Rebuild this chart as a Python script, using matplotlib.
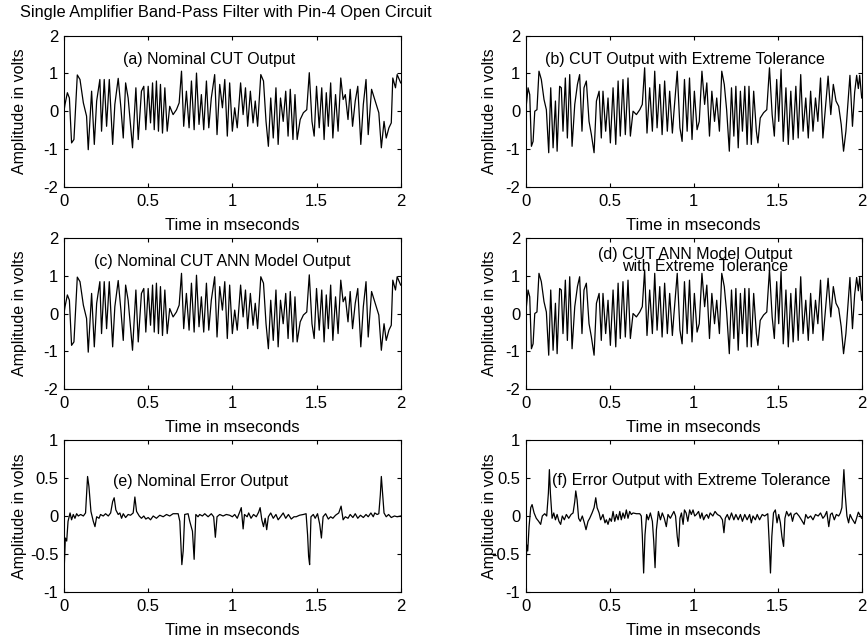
import matplotlib
matplotlib.use("Agg")
import matplotlib.pyplot as plt
from matplotlib.ticker import FuncFormatter

plt.rcParams["font.family"] = ["Liberation Sans", "DejaVu Sans"]
plt.rcParams["axes.unicode_minus"] = False

# ---- nominal CUT output (time in ms, amplitude in V) ----
t_nom = [0.000, 0.006, 0.020, 0.032, 0.045, 0.059, 0.079, 0.095, 0.115, 0.134, 0.144, 0.164,
         0.180, 0.194, 0.213, 0.223, 0.239, 0.253, 0.269, 0.289, 0.302, 0.322, 0.338, 0.352,
         0.366, 0.381, 0.407, 0.427, 0.441, 0.460, 0.474, 0.486, 0.500, 0.514, 0.526, 0.536,
         0.549, 0.561, 0.573, 0.585, 0.599, 0.613, 0.628, 0.648, 0.668, 0.684, 0.698, 0.711,
         0.727, 0.743, 0.757, 0.773, 0.787, 0.802, 0.816, 0.830, 0.846, 0.860, 0.875, 0.895,
         0.909, 0.925, 0.941, 0.955, 0.970, 0.984, 1.000, 1.014, 1.029, 1.049, 1.064, 1.078,
         1.091, 1.107, 1.123, 1.136, 1.150, 1.169, 1.185, 1.200, 1.214, 1.228, 1.243, 1.259,
         1.272, 1.286, 1.302, 1.317, 1.331, 1.344, 1.360, 1.372, 1.385, 1.403, 1.422, 1.442,
         1.457, 1.473, 1.486, 1.500, 1.516, 1.531, 1.545, 1.558, 1.570, 1.584, 1.597, 1.613,
         1.628, 1.644, 1.658, 1.671, 1.687, 1.700, 1.714, 1.730, 1.745, 1.763, 1.778, 1.794,
         1.807, 1.827, 1.846, 1.870, 1.885, 1.901, 1.914, 1.930, 1.944, 1.953, 1.969, 1.979,
         2.000]
v_nom = [0.00, 0.18, 0.49, 0.35, -0.84, -0.75, 0.96, 0.84, 0.22, -0.13, -1.02, 0.53,
         -0.88, 0.27, 0.84, -0.53, 0.84, -0.40, 0.84, -0.88, 0.18, 0.87, 0.09, -0.71,
         0.75, 0.35, -0.97, 0.62, -0.75, 0.53, 0.66, -0.49, 0.66, -0.31, 0.75, -0.49,
         0.80, -0.53, 0.71, -0.58, 0.62, -0.53, 0.13, -0.09, 0.04, 0.22, 1.06, -0.40,
         0.53, -0.44, 0.80, -0.49, 1.01, -0.35, 0.44, -0.49, 0.80, -0.44, 0.35, 0.97,
         -0.62, 0.71, 0.09, 0.84, -0.66, 0.75, -0.53, 0.09, -0.44, 0.75, -0.09, 0.62,
         -0.40, 0.53, -0.31, 0.27, -0.40, 0.97, 0.80, -0.27, -0.93, 0.35, -0.71, 0.62,
         -0.88, 0.35, -0.27, 0.53, -0.66, 0.58, -0.75, 0.44, -0.75, -0.22, -0.04, 0.04,
         1.02, -0.27, -0.66, 0.66, -0.44, 0.62, -0.75, 0.49, -0.40, 0.75, -0.71, 0.44,
         -0.53, 0.88, 0.31, 0.44, -0.22, 0.58, -0.40, 0.27, 0.66, -0.88, 0.18, 0.84,
         -0.62, 0.58, 0.31, -0.04, -0.97, -0.27, -0.71, -0.44, -0.31, 0.88, 0.62, 0.97,
         0.75]

# ---- CUT output with extreme tolerance ----
t_tol = [0.000, 0.004, 0.014, 0.024, 0.034, 0.044, 0.054, 0.067, 0.079, 0.093, 0.109, 0.123,
         0.137, 0.149, 0.163, 0.177, 0.187, 0.202, 0.212, 0.222, 0.236, 0.248, 0.262, 0.276,
         0.292, 0.308, 0.321, 0.335, 0.347, 0.361, 0.377, 0.391, 0.407, 0.421, 0.437, 0.450,
         0.460, 0.476, 0.490, 0.504, 0.520, 0.536, 0.550, 0.563, 0.579, 0.593, 0.609, 0.623,
         0.639, 0.659, 0.679, 0.694, 0.708, 0.722, 0.738, 0.754, 0.768, 0.782, 0.798, 0.812,
         0.827, 0.843, 0.857, 0.873, 0.882, 0.902, 0.918, 0.931, 0.945, 0.961, 0.975, 0.990,
         1.004, 1.020, 1.033, 1.049, 1.065, 1.078, 1.094, 1.108, 1.124, 1.137, 1.153, 1.167,
         1.182, 1.196, 1.212, 1.225, 1.239, 1.251, 1.265, 1.278, 1.290, 1.304, 1.318, 1.329,
         1.343, 1.357, 1.373, 1.382, 1.396, 1.416, 1.435, 1.451, 1.467, 1.480, 1.494, 1.506,
         1.520, 1.533, 1.549, 1.563, 1.578, 1.592, 1.608, 1.622, 1.637, 1.651, 1.667, 1.682,
         1.696, 1.710, 1.725, 1.739, 1.755, 1.769, 1.784, 1.800, 1.816, 1.831, 1.847, 1.863,
         1.878, 1.892, 1.906, 1.918, 1.930, 1.945, 1.958, 1.970, 1.980, 1.988, 2.000]
v_tol = [0.00, 0.18, 0.62, 0.44, -0.93, -0.80, 0.00, 0.04, 1.06, 0.84, 0.31, 0.04,
         -1.10, 0.62, -0.97, 0.27, -1.06, 0.66, 0.62, -0.53, 0.88, -0.71, 0.97, -0.93,
         0.18, 0.71, 0.97, -0.53, 0.62, 0.80, -0.27, -0.62, -1.10, 0.27, 0.53, -0.71,
         0.53, -0.53, 0.35, -0.84, 0.62, -0.88, 0.80, -0.66, 0.84, -0.62, 0.88, -0.66,
         0.00, -0.09, 0.04, 0.18, 1.15, -0.58, 0.62, -0.53, 1.06, -0.44, 0.71, -0.62,
         0.80, -0.53, 0.53, -0.58, -0.04, 1.06, -0.44, -0.80, 0.84, -0.53, 0.88, -0.75,
         0.53, -0.49, -0.27, 1.06, 0.18, 0.75, -0.66, 0.53, -0.27, 0.35, -0.53, 1.06,
         0.71, 0.04, -1.06, 0.62, -0.66, 0.66, -0.97, 0.53, -0.53, 0.66, -0.88, 0.66,
         -0.88, 0.53, -0.53, -0.84, -0.18, -0.04, 0.04, 1.15, -0.09, -0.66, 0.84, -0.27,
         1.11, -0.80, 0.62, -0.88, 0.53, -0.75, 0.66, -0.71, 0.97, -0.53, 0.35, -0.71,
         0.53, -0.53, 0.35, -0.27, 0.88, -0.71, 0.09, 0.93, -0.09, 0.71, 0.27, 0.13,
         -0.35, -1.06, -0.53, 0.20, 0.95, -0.40, 0.50, 0.95, 0.60, 0.95, 0.35]

# ---- nominal error output ----
t_err_nom = [0.000, 0.002, 0.008, 0.016, 0.024, 0.036, 0.045, 0.055, 0.065, 0.075, 0.085, 0.099,
             0.115, 0.128, 0.140, 0.148, 0.160, 0.174, 0.184, 0.194, 0.208, 0.217, 0.233, 0.247,
             0.263, 0.277, 0.289, 0.298, 0.308, 0.322, 0.332, 0.342, 0.352, 0.366, 0.381, 0.395,
             0.411, 0.421, 0.431, 0.447, 0.460, 0.474, 0.486, 0.500, 0.514, 0.530, 0.549, 0.569,
             0.589, 0.609, 0.628, 0.648, 0.678, 0.688, 0.700, 0.708, 0.717, 0.737, 0.747, 0.763,
             0.773, 0.783, 0.796, 0.806, 0.822, 0.836, 0.856, 0.875, 0.889, 0.899, 0.909, 0.925,
             0.945, 0.964, 0.984, 1.000, 1.014, 1.029, 1.045, 1.053, 1.064, 1.072, 1.088, 1.097,
             1.111, 1.126, 1.142, 1.156, 1.165, 1.175, 1.185, 1.195, 1.204, 1.214, 1.228, 1.243,
             1.259, 1.272, 1.286, 1.302, 1.317, 1.333, 1.350, 1.366, 1.379, 1.399, 1.422, 1.438,
             1.447, 1.453, 1.459, 1.467, 1.481, 1.492, 1.506, 1.519, 1.529, 1.539, 1.554, 1.570,
             1.584, 1.597, 1.613, 1.632, 1.646, 1.658, 1.671, 1.687, 1.700, 1.716, 1.730, 1.745,
             1.761, 1.778, 1.794, 1.807, 1.823, 1.837, 1.846, 1.860, 1.870, 1.879, 1.885, 1.893,
             1.901, 1.914, 1.928, 1.944, 1.963, 1.979, 2.000]
v_err_nom = [-0.55, -0.64, -0.29, -0.33, -0.07, 0.04, -0.05, 0.02, -0.03, 0.03, 0.00, 0.02,
             0.00, 0.04, 0.52, 0.39, 0.06, -0.07, -0.14, -0.01, -0.03, 0.02, 0.00, 0.03,
             0.00, 0.04, 0.19, 0.24, 0.08, 0.02, 0.04, -0.03, 0.03, -0.02, 0.02, 0.01,
             0.04, 0.25, 0.06, 0.00, -0.03, 0.00, -0.04, -0.02, -0.05, 0.00, -0.03, 0.01,
             -0.01, 0.02, 0.00, 0.03, 0.03, -0.07, -0.64, -0.46, 0.02, 0.03, -0.07, -0.20,
             -0.57, 0.02, -0.01, 0.02, 0.00, 0.03, -0.01, 0.03, -0.01, -0.28, -0.01, 0.02,
             0.00, 0.02, 0.01, -0.01, 0.02, -0.03, 0.06, 0.11, -0.17, 0.02, -0.01, 0.04,
             -0.03, 0.02, -0.01, 0.05, 0.11, -0.05, -0.14, -0.03, -0.18, -0.01, 0.04, -0.03,
             0.02, -0.05, -0.01, 0.04, -0.03, 0.02, -0.04, -0.01, -0.01, 0.01, 0.02, 0.03,
             -0.25, -0.53, -0.64, -0.01, 0.02, -0.03, 0.03, -0.11, -0.29, -0.01, 0.03, -0.04,
             -0.01, -0.03, 0.01, 0.04, 0.13, -0.05, -0.01, -0.03, 0.02, -0.02, 0.03, -0.03,
             0.01, -0.02, 0.02, -0.01, 0.04, -0.01, 0.04, 0.02, 0.03, 0.28, 0.52, 0.28,
             0.04, -0.01, 0.02, -0.02, 0.00, -0.01, 0.00]

# ---- error output with extreme tolerance ----
t_err_tol = [0.000, 0.002, 0.006, 0.012, 0.020, 0.030, 0.038, 0.050, 0.063, 0.077, 0.089, 0.099,
             0.113, 0.125, 0.135, 0.141, 0.147, 0.157, 0.167, 0.177, 0.187, 0.198, 0.208, 0.218,
             0.230, 0.242, 0.256, 0.270, 0.282, 0.292, 0.298, 0.306, 0.315, 0.325, 0.337, 0.349,
             0.359, 0.371, 0.381, 0.395, 0.407, 0.417, 0.425, 0.437, 0.446, 0.460, 0.472, 0.480,
             0.490, 0.500, 0.510, 0.520, 0.530, 0.540, 0.550, 0.560, 0.569, 0.579, 0.589, 0.599,
             0.609, 0.619, 0.629, 0.639, 0.659, 0.679, 0.688, 0.694, 0.702, 0.710, 0.720, 0.730,
             0.742, 0.754, 0.762, 0.770, 0.778, 0.790, 0.802, 0.813, 0.825, 0.837, 0.847, 0.861,
             0.882, 0.892, 0.902, 0.910, 0.918, 0.927, 0.937, 0.945, 0.955, 0.965, 0.976, 0.986,
             0.996, 1.006, 1.016, 1.029, 1.039, 1.049, 1.059, 1.069, 1.078, 1.088, 1.098, 1.114,
             1.127, 1.141, 1.157, 1.171, 1.180, 1.188, 1.200, 1.212, 1.225, 1.239, 1.251, 1.265,
             1.278, 1.290, 1.304, 1.318, 1.333, 1.343, 1.353, 1.367, 1.378, 1.392, 1.408, 1.422,
             1.441, 1.449, 1.457, 1.465, 1.475, 1.486, 1.496, 1.506, 1.516, 1.525, 1.535, 1.543,
             1.553, 1.565, 1.578, 1.588, 1.598, 1.612, 1.627, 1.641, 1.657, 1.667, 1.680, 1.696,
             1.710, 1.725, 1.741, 1.755, 1.769, 1.780, 1.792, 1.804, 1.814, 1.824, 1.837, 1.849,
             1.863, 1.873, 1.882, 1.888, 1.894, 1.902, 1.912, 1.922, 1.931, 1.941, 1.960, 1.980,
             2.000]
v_err_tol = [-0.60, -0.75, -0.38, -0.46, -0.14, 0.11, 0.15, 0.04, -0.03, -0.07, -0.11, 0.00,
             0.03, 0.00, 0.30, 0.61, 0.30, -0.03, 0.04, -0.05, 0.02, -0.07, -0.11, 0.00,
             -0.05, 0.02, -0.03, 0.02, 0.04, 0.19, 0.33, 0.21, -0.03, -0.07, 0.00, -0.09,
             -0.18, -0.07, -0.03, 0.04, 0.11, 0.24, 0.11, 0.04, -0.05, 0.02, -0.09, -0.05,
             -0.11, -0.03, -0.07, 0.06, -0.07, 0.02, -0.05, 0.06, -0.05, 0.04, -0.03, 0.08,
             -0.03, 0.06, 0.02, 0.04, 0.03, 0.03, 0.00, -0.25, -0.75, -0.25, 0.02, -0.05,
             0.04, -0.07, -0.33, -0.68, -0.18, 0.06, -0.05, 0.04, -0.03, -0.14, 0.02, -0.03,
             0.06, 0.00, -0.27, -0.40, -0.03, 0.04, -0.11, 0.08, 0.04, -0.07, 0.08, 0.02,
             0.08, 0.00, 0.02, 0.06, -0.03, 0.04, -0.05, 0.00, 0.02, -0.03, 0.04, 0.00,
             0.06, 0.02, 0.00, -0.05, -0.22, -0.03, 0.02, -0.05, 0.04, -0.05, 0.02, -0.05,
             0.02, -0.07, 0.02, -0.05, 0.02, -0.09, 0.00, -0.05, 0.02, -0.05, 0.02, 0.00,
             0.03, -0.33, -0.75, -0.27, 0.04, 0.08, -0.09, 0.02, -0.09, -0.27, -0.40, -0.03,
             0.06, 0.00, 0.04, -0.07, 0.02, 0.04, 0.00, -0.05, -0.11, 0.02, -0.03, 0.00,
             -0.05, 0.02, 0.00, 0.04, -0.03, 0.00, 0.06, -0.14, 0.02, 0.04, -0.05, 0.02,
             0.00, 0.04, 0.11, 0.37, 0.61, 0.28, 0.00, -0.09, 0.02, -0.03, -0.10, 0.05,
             -0.03]

xticks = [0, 0.5, 1, 1.5, 2]
yticks_sig = [-2, -1, 0, 1, 2]
yticks_err = [-1, -0.5, 0, 0.5, 1]

suptitle = "Single Amplifier Band-Pass Filter with Pin-4 Open Circuit"
xlabel = "Time in mseconds"
ylabel = "Amplitude in volts"

W, H = 867, 638
fig = plt.figure(figsize=(W / 100, H / 100), dpi=100)


def px_axes(x0, x1, ytop, ybot):
    return fig.add_axes([x0 / W, (H - ybot) / H, (x1 - x0) / W, (ybot - ytop) / H])


fmt = FuncFormatter(lambda v, p: "%g" % v)

left_x = (64, 400.7)
right_x = (525.7, 861.7)
rows = [(35.7, 186.7), (237.7, 389.3), (440.0, 592.0)]

panels = [
    (left_x, rows[0], t_nom, v_nom, yticks_sig),
    (right_x, rows[0], t_tol, v_tol, yticks_sig),
    (left_x, rows[1], t_nom, v_nom, yticks_sig),
    (right_x, rows[1], t_tol, v_tol, yticks_sig),
    (left_x, rows[2], t_err_nom, v_err_nom, yticks_err),
    (right_x, rows[2], t_err_tol, v_err_tol, yticks_err),
]

axes = []
for (xs, ys, t, v, yt) in panels:
    ax = px_axes(xs[0], xs[1], ys[0], ys[1])
    ax.plot(t, v, color="black", linewidth=0.9)
    ax.set_xlim(0, 2)
    ax.set_ylim(yt[0], yt[-1])
    ax.set_xticks(xticks)
    ax.set_yticks(yt)
    ax.xaxis.set_major_formatter(fmt)
    ax.yaxis.set_major_formatter(fmt)
    ax.tick_params(direction="in", length=3, width=0.8, top=True, right=True,
                   labelsize=12, colors="black")
    ax.tick_params(axis="x", pad=5)
    ax.tick_params(axis="y", pad=4)
    for s in ax.spines.values():
        s.set_linewidth(0.8)
    ax.set_xlabel(xlabel, fontsize=12)
    ax.set_ylabel(ylabel, fontsize=11.5)
    ax.xaxis.set_label_coords(0.5, -0.205)
    if xs is left_x:
        ax.yaxis.set_label_coords(-0.11, 0.5)
    else:
        ax.yaxis.set_label_coords(-0.085, 0.5)
    axes.append(ax)

a, b, c, d, e, f = axes
ann = 11.5
a.text(0.35, 1.38, "(a) Nominal CUT Output", fontsize=ann, va="center")
b.text(0.115, 1.38, "(b) CUT Output with Extreme Tolerance", fontsize=ann, va="center")
c.text(0.18, 1.36, "(c) Nominal CUT ANN Model Output", fontsize=ann, va="center")
d.text(0.43, 1.56, "(d) CUT ANN Model Output", fontsize=ann, va="center")
d.text(0.573, 1.24, "with Extreme Tolerance", fontsize=ann, va="center")
e.text(0.29, 0.46, "(e) Nominal Error Output", fontsize=ann, va="center")
f.text(0.157, 0.47, "(f) Error Output with Extreme Tolerance", fontsize=ann, va="center")

fig.text(20 / W, 1 - 13 / H, suptitle, fontsize=11.8, va="center", ha="left")

fig.savefig("out.png", dpi=100)
